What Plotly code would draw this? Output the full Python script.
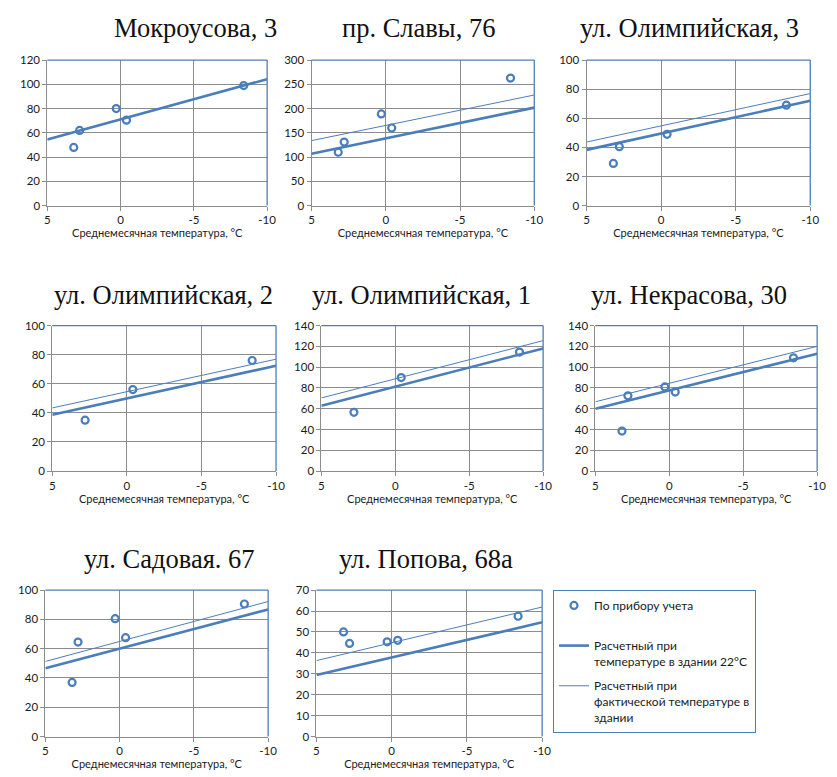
import plotly.graph_objects as go

W, H = 837, 777

titles = ["Мокроусова, 3", "пр. Славы, 76", "ул. Олимпийская, 3",
          "ул. Олимпийская, 2", "ул. Олимпийская, 1", "ул. Некрасова, 30",
          "ул. Садовая. 67", "ул. Попова, 68а"]

# monthly mean outdoor temperatures, °C
temps = [3.2, 2.8, 0.3, -0.4, -8.4]

meter_1 = [48, 62, 80, 70.5, 99]
meter_2 = [110, 131, 189, 160, 263]
meter_3 = [29, 40.5, None, 49, 69]
meter_4 = [None, 35, None, 56, 76]
meter_5 = [None, 56.5, None, 90, 114.5]
meter_6 = [38.5, 72.5, 81, 76, 109]
meter_7 = [37, 64.5, 80.5, 67.5, 90.5]
meter_8 = [50, 44.5, 45.3, 46, 57.5]
meters = [meter_1, meter_2, meter_3, meter_4, meter_5, meter_6, meter_7, meter_8]

line_x = [5, -10]
calc22_1 = [54.6, 104.3]
calc22_2 = [107, 202]
calc22_3 = [38.3, 72]
calc22_4 = [38.7, 72.4]
calc22_5 = [62.9, 118]
calc22_6 = [60, 113]
calc22_7 = [46.6, 86.8]
calc22_8 = [29.4, 54.6]
calc22 = [calc22_1, calc22_2, calc22_3, calc22_4, calc22_5, calc22_6, calc22_7, calc22_8]

calcfact_1 = [54.6, 104.3]
calcfact_2 = [134, 228]
calcfact_3 = [43.7, 77]
calcfact_4 = [43.4, 76.9]
calcfact_5 = [70.4, 125.5]
calcfact_6 = [66.7, 120]
calcfact_7 = [51.3, 92.2]
calcfact_8 = [36.3, 61.9]
calcfact = [calcfact_1, calcfact_2, calcfact_3, calcfact_4, calcfact_5, calcfact_6, calcfact_7, calcfact_8]

y_max = [120, 300, 100, 100, 140, 140, 100, 70]
y_step = [20, 50, 20, 20, 20, 20, 20, 10]
x_ticks = [5, 0, -5, -10]

legend_names = ["По прибору учета<br>\u00a0",
                "Расчетный при<br>температуре в здании 22°С",
                "Расчетный при<br>фактической температуре в<br>здании"]
x_title = "Среднемесячная температура, °С"

# plot-area boxes in pixels: left, right, top, bottom
boxes = [(45, 268, 54, 202), (313, 539, 54, 202), (592, 819, 54, 202),
         (50, 277, 324, 472), (323, 548, 324, 472), (601, 826, 324, 472),
         (43, 269, 593, 742), (318, 547, 593, 742)]
title_pos = [(195, 21), (422, 21), (696, 21),
             (163, 293), (425, 293), (696, 293),
             (169, 561), (429, 561)]

BLUE = "#4a7ebb"
GRID = "#8c8c8c"
FONT = "Lato, 'Noto Sans', sans-serif"

fig = go.Figure()
annotations = []
shapes = []
for i in range(8):
    n = i + 1
    xa = "x" if n == 1 else f"x{n}"
    ya = "y" if n == 1 else f"y{n}"
    fig.add_trace(go.Scatter(
        x=temps, y=meters[i], xaxis=xa, yaxis=ya, mode="markers",
        marker=dict(symbol="circle-open", size=7, color=BLUE, line=dict(width=2.2, color=BLUE)),
        name=legend_names[0], legendgroup="g1", legendrank=1, showlegend=(i == 0)))
    fig.add_trace(go.Scatter(
        x=line_x, y=calcfact[i], xaxis=xa, yaxis=ya, mode="lines",
        line=dict(color=BLUE, width=1),
        name=legend_names[2], legendgroup="g3", legendrank=3, showlegend=(i == 0)))
    fig.add_trace(go.Scatter(
        x=line_x, y=calc22[i], xaxis=xa, yaxis=ya, mode="lines",
        line=dict(color=BLUE, width=2.6),
        name=legend_names[1], legendgroup="g2", legendrank=2, showlegend=(i == 0)))
    l, r, t, b = boxes[i]
    xkey = "xaxis" if n == 1 else f"xaxis{n}"
    ykey = "yaxis" if n == 1 else f"yaxis{n}"
    fig.layout[xkey] = dict(
        domain=[l / W, r / W], anchor=ya, range=[5, -10],
        tickvals=x_ticks, ticktext=[str(v) for v in x_ticks],
        showgrid=True, gridcolor=GRID, gridwidth=1,
        showline=True, linecolor=GRID, linewidth=1,
        ticks="outside", ticklen=4, tickcolor=GRID,
        zeroline=False, tickfont=dict(family=FONT, size=11.5, color="#1a1a1a"),
        title=dict(text=x_title, standoff=1, font=dict(family=FONT, size=11, color="#1a1a1a")),
        fixedrange=True)
    fig.layout[ykey] = dict(
        domain=[1 - b / H, 1 - t / H], anchor=xa, range=[0, y_max[i]],
        dtick=y_step[i], tick0=0,
        showgrid=True, gridcolor=GRID, gridwidth=1,
        showline=True, linecolor=GRID, linewidth=1,
        ticks="outside", ticklen=4, tickcolor=GRID,
        zeroline=False, tickfont=dict(family=FONT, size=11.5, color="#1a1a1a"),
        fixedrange=True)
    # blue plot-area border (top and right edges)
    shapes.append(dict(type="line", xref=f"{xa} domain", yref=f"{ya} domain",
                       x0=0, x1=1, y0=1, y1=1, line=dict(color=BLUE, width=1.3)))
    shapes.append(dict(type="line", xref=f"{xa} domain", yref=f"{ya} domain",
                       x0=1, x1=1, y0=0, y1=1, line=dict(color=BLUE, width=1.3)))
    tx, ty = title_pos[i]
    annotations.append(dict(text=titles[i], x=tx / W, y=1 - ty / H, xref="paper", yref="paper",
                            xanchor="center", yanchor="middle", showarrow=False,
                            font=dict(family="'Liberation Serif', 'Times New Roman', serif",
                                      size=26.5, color="#111111")))

fig.update_layout(
    width=W, height=H, margin=dict(l=0, r=0, t=0, b=0),
    paper_bgcolor="white", plot_bgcolor="white",
    annotations=annotations, shapes=shapes,
    showlegend=True,
    legend=dict(x=558 / W, y=1 - 593 / H, xanchor="left", yanchor="top",
                bordercolor=BLUE, borderwidth=1, bgcolor="white",
                font=dict(family=FONT, size=12, color="#1a1a1a"),
                valign="top", tracegroupgap=6, traceorder="grouped"),
)

fig.write_html("out.html")
